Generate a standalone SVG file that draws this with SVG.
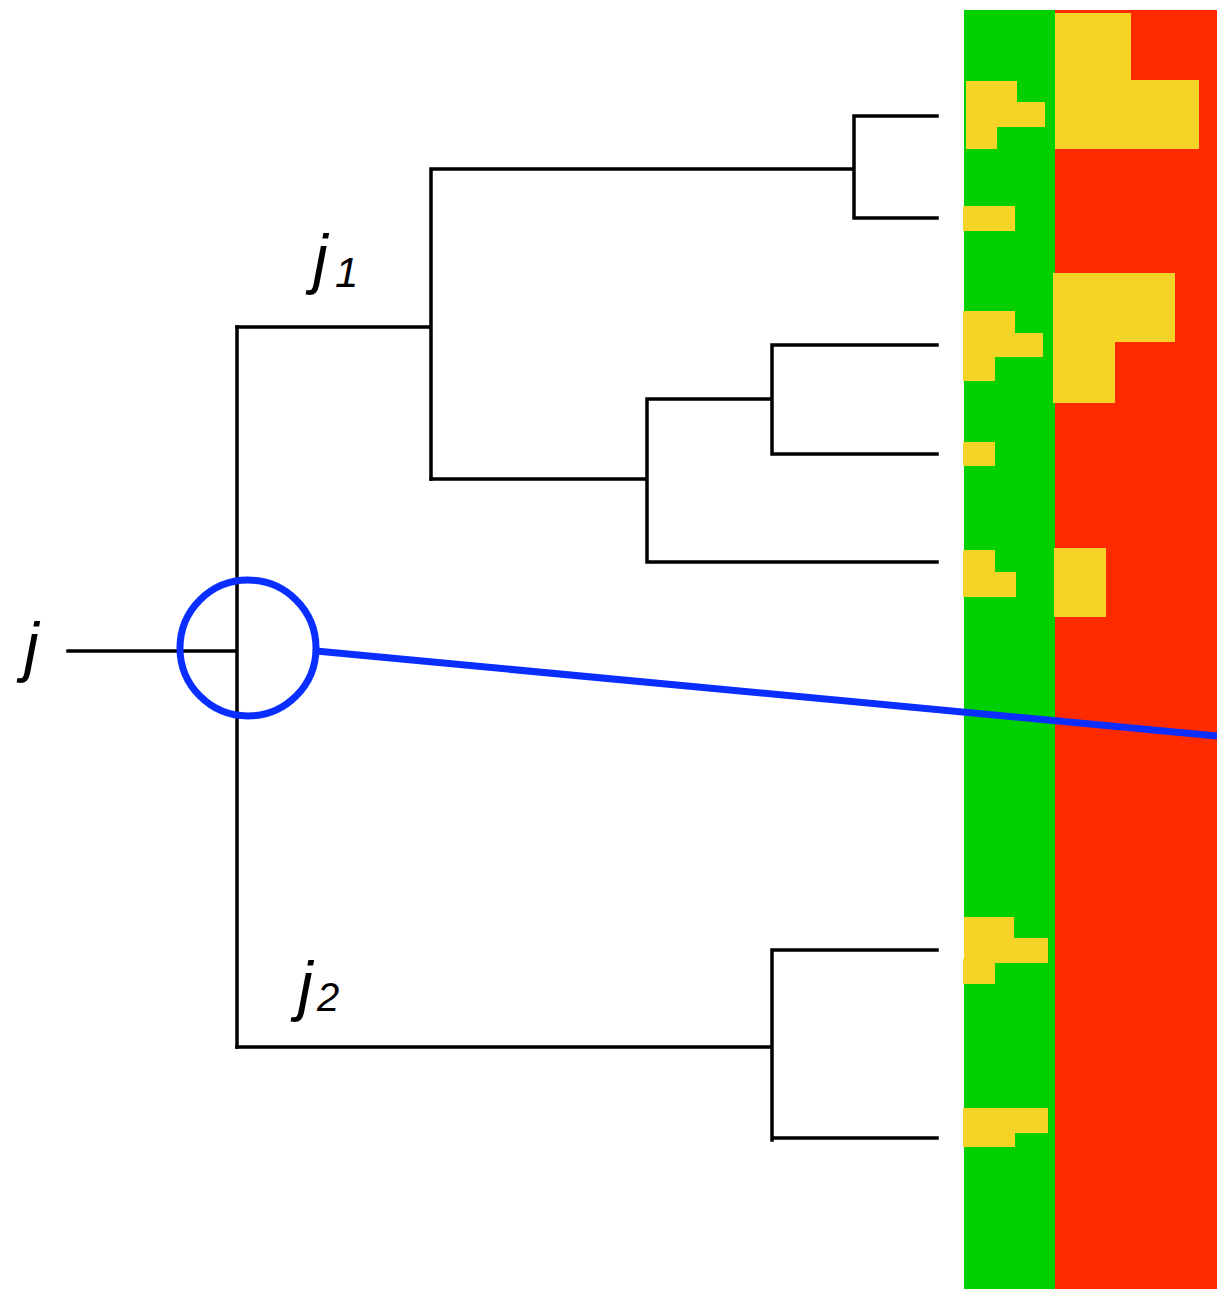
<svg xmlns="http://www.w3.org/2000/svg" width="1217" height="1289" viewBox="0 0 1217 1289">
<style>
.t{stroke:#000;stroke-width:3.5;fill:none;stroke-linecap:square}
.y{fill:#F5D327}
.lbl{font-family:"Liberation Sans",Arial,sans-serif;font-style:italic;fill:#000}
</style>
<rect width="1217" height="1289" fill="#fff"/>
<g id="strip">
<rect x="964" y="10" width="91" height="1279" fill="#00CF00"/>
<rect x="1055" y="10" width="162" height="1279" fill="#FF2A00"/>
</g>
<g id="heat-red">
<polygon class="y" points="1055,13 1131,13 1131,80 1199,80 1199,149 1055,149"/>
<polygon class="y" points="1053,273 1175,273 1175,342 1115,342 1115,403 1053,403"/>
<rect class="y" x="1054" y="548" width="52" height="69"/>
</g>
<g id="heat-green">
<rect class="y" x="966" y="81" width="51" height="21"/>
<rect class="y" x="966" y="102" width="79" height="25"/>
<rect class="y" x="966" y="125" width="31" height="24"/>
<rect class="y" x="963" y="206" width="52" height="25"/>
<polygon class="y" points="963,311 1015,311 1015,333 1043,333 1043,357 995,357 995,381 963,381"/>
<rect class="y" x="963" y="442" width="32" height="24"/>
<polygon class="y" points="963,550 995,550 995,572 1016,572 1016,597 963,597"/>
<polygon class="y" points="964,917 1014,917 1014,938 1048,938 1048,963 995,963 995,984 963,984 963,959 964,959"/>
<polygon class="y" points="963,1108 1048,1108 1048,1133 1015,1133 1015,1147 963,1147"/>
</g>
<g id="connectors">
<path class="t" d="M68,651 H235"/>
<path class="t" d="M237,327 V1047"/>
<path class="t" d="M237,327 H431 M431,169 V479 M431,169 H854 M854,116 V218 M854,116 H937 M854,218 H937"/>
<path class="t" d="M431,479 H646 M647,399 V562 M647,399 H772 M772,345 V454 M772,345 H937 M772,454 H937 M647,562 H937"/>
<path class="t" d="M237,1047 H772 M772,950 V1140 M772,950 H937 M772,1138 H937"/>
</g>
<g id="node-j">
<text class="lbl" x="24" y="669" font-size="66">j</text>
</g>
<g id="node-j1">
<text class="lbl" x="313" y="281" font-size="66">j</text>
<text class="lbl" x="335" y="287" font-size="42">1</text>
</g>
<g id="node-j2">
<text class="lbl" x="298" y="1008" font-size="66">j</text>
<text class="lbl" x="317" y="1011" font-size="40">2</text>
</g>
<g id="zoom">
<circle cx="248" cy="648" r="68" fill="none" stroke="#0A2EFF" stroke-width="7"/>
<line x1="316" y1="651" x2="1217" y2="736" stroke="#0A2EFF" stroke-width="7"/>
</g>
</svg>
